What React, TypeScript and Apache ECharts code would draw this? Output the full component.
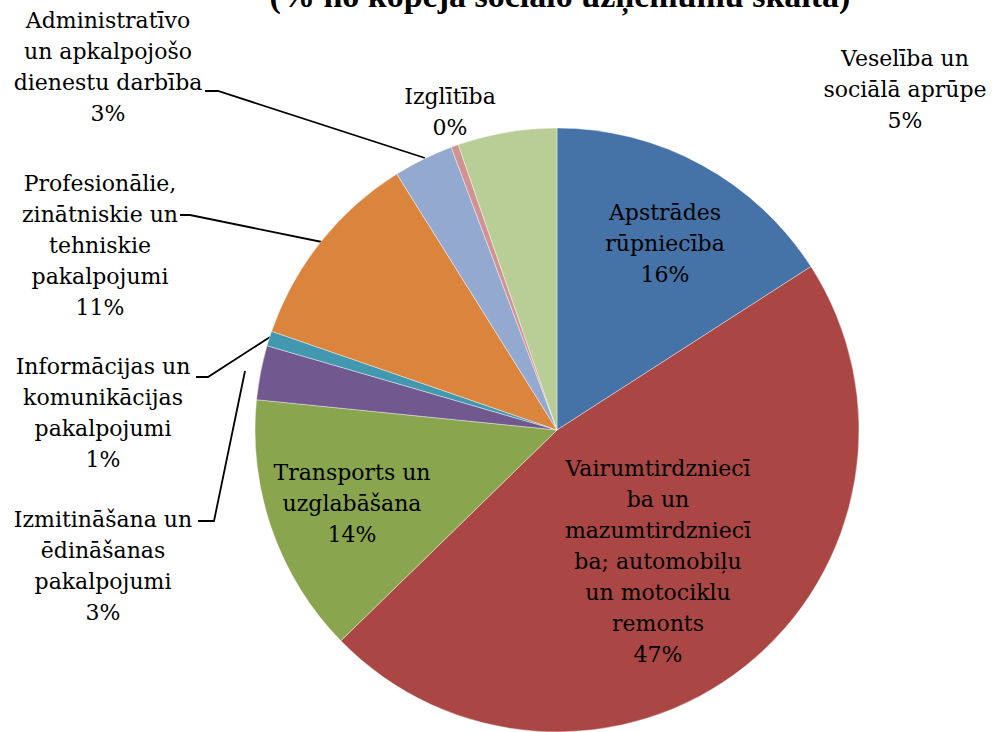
import React, { useEffect, useRef } from "react";
import * as echarts from "echarts";

const TITLE = "(% no kopējā sociālo uzņēmumu skaita)";

const categories = [
  "Apstrādes\nrūpniecība",
  "Vairumtirdzniecī\nba un\nmazumtirdzniecī\nba; automobiļu\nun motociklu\nremonts",
  "Transports un\nuzglabāšana",
  "Izmitināšana un\nēdināšanas\npakalpojumi",
  "Informācijas un\nkomunikācijas\npakalpojumi",
  "Profesionālie,\nzinātniskie un\ntehniskie\npakalpojumi",
  "Administratīvo\nun apkalpojošo\ndienestu darbība",
  "Izglītība",
  "Veselība un\nsociālā aprūpe",
];

const values = [15.9, 46.8, 13.9, 2.9, 0.8, 10.8, 3.2, 0.4, 5.3];

const colors = [
  "#4572A7",
  "#AA4643",
  "#89A54E",
  "#71588F",
  "#4198AF",
  "#DB843D",
  "#93A9CF",
  "#D19392",
  "#B9CD96",
];

const insideLabel = [true, true, true, false, false, false, false, false, false];

// label block centres (layout)
const labelPos: number[][] = [
  [665, 243],
  [658, 561],
  [352, 503],
  [103, 566],
  [103, 413],
  [100, 245],
  [108, 67],
  [450, 112],
  [905, 89],
];

// leader lines (layout)
const leaderLines: (number[][] | null)[] = [
  null,
  null,
  null,
  [[198, 521], [214, 521], [245, 371]],
  [[196, 377], [208, 377], [270, 337]],
  [[180, 215], [190, 215], [322, 242]],
  [[205, 91], [218, 91], [425, 158]],
  null,
  null,
];

export default function App() {
  const ref = useRef<HTMLDivElement>(null);
  useEffect(() => {
    if (!ref.current) return;
    const chart = echarts.init(ref.current, null, { renderer: "svg" });
    const font = "'DejaVu Serif', 'Liberation Serif', serif";
    chart.setOption({
      animation: false,
      backgroundColor: "#ffffff",
      graphic: [
        {
          type: "text",
          x: 560,
          y: 12,
          style: {
            text: TITLE,
            font: "bold 34px 'Liberation Serif', serif",
            fill: "#000",
            align: "center",
            verticalAlign: "bottom",
          },
        },
      ],
      series: [
        {
          type: "pie",
          center: [557, 430],
          radius: 302,
          startAngle: 90,
          clockwise: true,
          avoidLabelOverlap: false,
          itemStyle: { borderColor: "#ffffff", borderWidth: 0.4 },
          emphasis: { disabled: true },
          label: {
            fontFamily: font,
            fontSize: 22,
            lineHeight: 31,
            color: "#000",
            align: "center",
            formatter: (p: any) => `${p.name}\n${Math.round(p.percent)}%`,
          },
          labelLine: {
            lineStyle: { color: "#000", width: 1.8 },
          },
          labelLayout: (p: any) => {
            const i = p.dataIndex;
            const pos = labelPos[i];
            const res: any = {
              x: pos[0],
              y: pos[1],
              align: "center",
              verticalAlign: "middle",
            };
            if (leaderLines[i]) res.labelLinePoints = leaderLines[i];
            return res;
          },
          data: categories.map((name, i) => ({
            name,
            value: values[i],
            itemStyle: { color: colors[i] },
            label: { position: insideLabel[i] ? "inside" : "outside" },
            labelLine: { show: !!leaderLines[i] },
          })),
        },
      ],
    });
    return () => chart.dispose();
  }, []);
  return (
    <div
      ref={ref}
      style={{ position: "fixed", left: 0, top: 0, width: 993, height: 732 }}
    />
  );
}
